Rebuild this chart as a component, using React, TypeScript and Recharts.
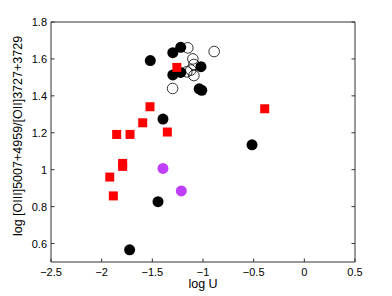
import { ScatterChart, Scatter, XAxis, YAxis, Label } from "recharts";

const xTicks = [-2.5, -2, -1.5, -1, -0.5, 0, 0.5];
const yTicks = [0.6, 0.8, 1, 1.2, 1.4, 1.6, 1.8];

// filled black circles
const blackU = [-1.52, -1.298, -1.22, -1.298, -1.22, -1.02, -1.038, -1.012, -1.395, -0.516, -1.444, -1.724];
const blackO = [1.591, 1.634, 1.663, 1.513, 1.527, 1.558, 1.438, 1.43, 1.274, 1.135, 0.827, 0.566];

// open circles
const openU = [-1.15, -0.89, -1.1, -1.09, -1.12, -1.16, -1.09, -1.3];
const openO = [1.66, 1.64, 1.6, 1.57, 1.54, 1.53, 1.51, 1.44];

// red squares
const redU = [-1.258, -1.523, -1.595, -1.852, -1.72, -1.352, -1.793, -1.793, -1.92, -1.885, -0.391];
const redO = [1.554, 1.341, 1.254, 1.191, 1.191, 1.204, 1.034, 1.018, 0.96, 0.858, 1.33];

// purple circles
const purpleU = [-1.395, -1.214];
const purpleO = [1.007, 0.885];

const zip = (xs: number[], ys: number[]) => xs.map((x, i) => ({ x, y: ys[i] }));

const blackData = zip(blackU, blackO);
const openData = zip(openU, openO);
const redData = zip(redU, redO);
const purpleData = zip(purpleU, purpleO);

const FONT = "'Liberation Sans', Arial, Helvetica, sans-serif";
const AXIS = "#333";
const TICK = 3.5;

const fmt = (v: number) => String(v).replace("-", "\u2212");

const BottomTick = (p: any) => (
  <g>
    <line x1={p.x} y1={p.y} x2={p.x} y2={p.y - TICK} stroke={AXIS} />
    <text x={p.x} y={p.y + 14} textAnchor="middle" fontSize={11} fontFamily={FONT} fill="#000">
      {fmt(p.payload.value)}
    </text>
  </g>
);
const TopTick = (p: any) => (
  <line x1={p.x} y1={p.y} x2={p.x} y2={p.y + TICK} stroke={AXIS} />
);
const LeftTick = (p: any) => (
  <g>
    <line x1={p.x} y1={p.y} x2={p.x + TICK} y2={p.y} stroke={AXIS} />
    <text x={p.x - 4} y={p.y + 4} textAnchor="end" fontSize={11} fontFamily={FONT} fill="#000">
      {fmt(p.payload.value)}
    </text>
  </g>
);
const RightTick = (p: any) => (
  <line x1={p.x} y1={p.y} x2={p.x - TICK} y2={p.y} stroke={AXIS} />
);

const Dot = (fill: string) => (p: any) => <circle cx={p.cx} cy={p.cy} r={5.5} fill={fill} />;
const Ring = (p: any) => <circle cx={p.cx} cy={p.cy} r={5.3} fill="none" stroke="#000" strokeWidth={0.8} />;
const Square = (p: any) => <rect x={p.cx - 4.5} y={p.cy - 4.5} width={9} height={9} fill="#ff0000" />;

export default function App() {
  return (
    <div style={{ position: "absolute", left: 0, top: 0, background: "#fff" }}>
      <ScatterChart width={392} height={296} margin={{ top: 21, right: 36, bottom: 33, left: 50 }}>
        <XAxis
          xAxisId="b"
          type="number"
          dataKey="x"
          domain={[-2.5, 0.5]}
          ticks={xTicks}
          height={1}
          tickSize={0}
          tickMargin={0}
          tick={BottomTick}
          axisLine={{ stroke: AXIS }}
          allowDataOverflow
        >
          <Label
            content={(props: any) => {
              const vb = props.viewBox;
              return (
                <text x={vb.x + vb.width / 2} y={vb.y + 26} textAnchor="middle" fontSize={12.5} fontFamily={FONT} fill="#000">
                  log U
                </text>
              );
            }}
          />
        </XAxis>
        <XAxis
          xAxisId="t"
          orientation="top"
          type="number"
          domain={[-2.5, 0.5]}
          ticks={xTicks}
          height={1}
          tickSize={0}
          tickMargin={0}
          tick={TopTick}
          axisLine={{ stroke: AXIS }}
          allowDataOverflow
        />
        <YAxis
          yAxisId="l"
          type="number"
          dataKey="y"
          domain={[0.5, 1.8]}
          ticks={yTicks}
          width={1}
          tickSize={0}
          tickMargin={0}
          tick={LeftTick}
          axisLine={{ stroke: AXIS }}
          allowDataOverflow
        >
          <Label
            content={(props: any) => {
              const vb = props.viewBox;
              const cx = vb.x + vb.width - 29;
              const cy = vb.y + vb.height / 2 - 6;
              return (
                <text x={cx} y={cy} transform={`rotate(-90 ${cx} ${cy})`} textAnchor="middle" fontSize={12.5} fontFamily={FONT} fill="#000">
                  log [OIII]5007+4959/[OII]3727+3729
                </text>
              );
            }}
          />
        </YAxis>
        <YAxis
          yAxisId="r"
          orientation="right"
          type="number"
          domain={[0.5, 1.8]}
          ticks={yTicks}
          width={1}
          tickSize={0}
          tickMargin={0}
          tick={RightTick}
          axisLine={{ stroke: AXIS }}
          allowDataOverflow
        />
        <Scatter xAxisId="b" yAxisId="l" data={openData} shape={Ring} isAnimationActive={false} />
        <Scatter xAxisId="b" yAxisId="l" data={blackData} shape={Dot("#000")} isAnimationActive={false} />
        <Scatter xAxisId="b" yAxisId="l" data={redData} shape={Square} isAnimationActive={false} />
        <Scatter xAxisId="b" yAxisId="l" data={purpleData} shape={Dot("#bf3fff")} isAnimationActive={false} />
      </ScatterChart>
    </div>
  );
}
